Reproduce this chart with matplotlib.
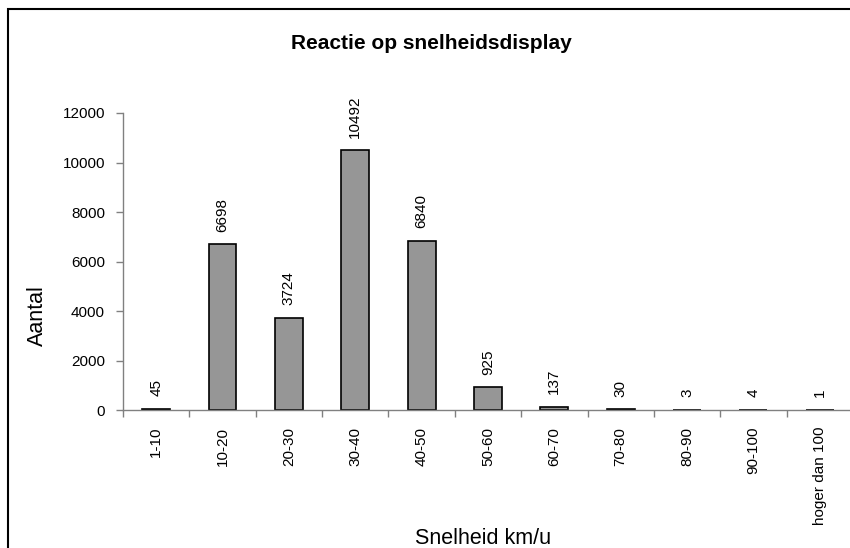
import matplotlib.pyplot as plt
import matplotlib.patches as patches
import numpy as np

plt.rcParams['font.family'] = ['Liberation Sans', 'DejaVu Sans']

# data
categories = ['1-10', '10-20', '20-30', '30-40', '40-50', '50-60',
              '60-70', '70-80', '80-90', '90-100', 'hoger dan 100']
counts = [45, 6698, 3724, 10492, 6840, 925, 137, 30, 3, 4, 1]
y_ticks = [0, 2000, 4000, 6000, 8000, 10000, 12000]

fig = plt.figure(figsize=(8.5, 5.48), dpi=100)
ax = fig.add_axes([0.1447, 0.2518, 0.8588, 0.542])

x = np.arange(len(categories))
bars = ax.bar(x, counts, width=0.42, color='#969696', edgecolor='black', linewidth=1.2)

# value labels above bars
for xi, v in zip(x, counts):
    ax.annotate(str(v), (xi, v), xytext=(0, 9), textcoords='offset points',
                rotation=90, ha='center', va='bottom', fontsize=11)

ax.set_xlim(-0.5, len(categories) - 0.5)
ax.set_ylim(0, 12000)
ax.set_yticks(y_ticks)
ax.set_yticklabels([str(t) for t in y_ticks], fontsize=11)

ax.set_xticks(x)
ax.set_xticklabels(categories, rotation=90, fontsize=11)
ax.set_xticks(np.arange(len(categories) + 1) - 0.5, minor=True)
ax.tick_params(axis='x', which='major', length=0, pad=12)
ax.tick_params(axis='x', which='minor', length=5, color='#808080', width=1)
ax.tick_params(axis='y', length=5, color='#808080', width=1, pad=8)

for s in ['top', 'right']:
    ax.spines[s].set_visible(False)
for s in ['left', 'bottom']:
    ax.spines[s].set_color('#808080')
    ax.spines[s].set_linewidth(1)

fig.text(0.507, 0.9106, 'Reactie op snelheidsdisplay', ha='center', va='baseline',
         fontsize=15, fontweight='bold')
fig.text(0.0435, 0.425, 'Aantal', rotation=90, ha='center', va='center', fontsize=15.5)
fig.text(0.568, 0.0073, 'Snelheid km/u', ha='center', va='baseline', fontsize=15.5)

# outer chart frame (cut off at right and bottom in the reference)
frame = patches.Rectangle((0.0094, -0.05), 1.2, 0.9836 + 0.05, transform=fig.transFigure,
                          fill=False, edgecolor='black', linewidth=1.5, clip_on=False)
fig.patches.append(frame)

fig.savefig('out.png', dpi=100)
